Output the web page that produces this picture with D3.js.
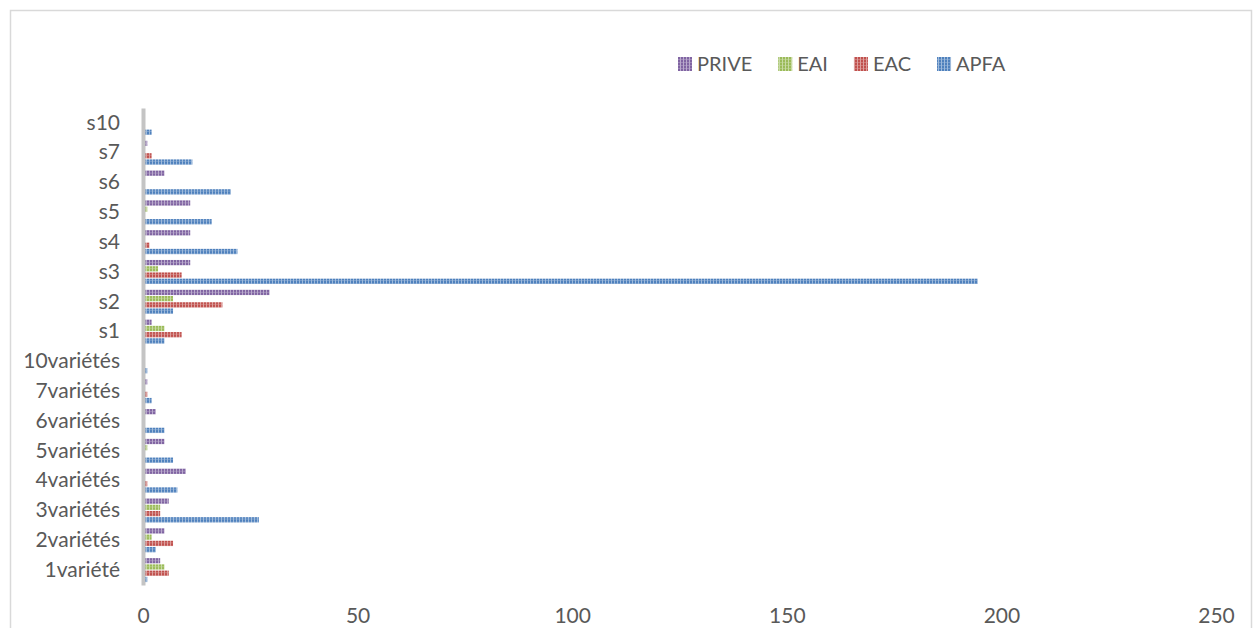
<!DOCTYPE html>
<html>
<head>
<meta charset="utf-8">
<script src="https://cdn.jsdelivr.net/npm/d3@7"></script>
<style>
  html, body { margin: 0; padding: 0; background: #fff; }
  svg { display: block; }
  text { font-family: Lato, "Open Sans", sans-serif; fill: #595959; }
</style>
</head>
<body>
<svg id="chart" width="1260" height="628"></svg>
<script>
// Categories listed bottom to top
const categories = ["1variété", "2variétés", "3variétés", "4variétés", "5variétés", "6variétés",
  "7variétés", "10variétés", "s1", "s2", "s3", "s4", "s5", "s6", "s7", "s10"];

const APFA  = [1, 3, 27, 8, 7, 5, 2, 1, 5, 7, 194.5, 22, 16, 20.5, 11.5, 2];
const EAC   = [6, 7, 4, 1, 0, 0, 1, 0, 9, 18.5, 9, 1.5, 0, 0, 2, 0];
const EAI   = [5, 2, 4, 0, 1, 0, 0, 0, 5, 7, 3.5, 0, 1, 0, 0, 0];
const PRIVE = [4, 5, 6, 10, 5, 3, 1, 0, 2, 29.5, 11, 11, 11, 5, 1, 0];

const xTicks = [0, 50, 100, 150, 200, 250];

// Series listed in legend order (top bar of each group first)
const seriesNames = ["PRIVE", "EAI", "EAC", "APFA"];
const seriesValues = { PRIVE, EAI, EAC, APFA };
const seriesColors = { PRIVE: "#8064A2", EAI: "#9BBB59", EAC: "#C0504D", APFA: "#4F81BD" };

const svg = d3.select("#chart");

// Outer chart frame
svg.append("rect")
  .attr("x", 10.5).attr("y", 10.5)
  .attr("width", 1241).attr("height", 640)
  .attr("fill", "#fff").attr("stroke", "#d9d9d9").attr("stroke-width", 1.5);

// Striped fill patterns for the bars
const defs = svg.append("defs");
seriesNames.forEach(name => {
  const base = d3.color(seriesColors[name]);
  const light = d3.interpolateRgb(base, "#ffffff")(0.45);
  const p = defs.append("pattern")
    .attr("id", "pat-" + name)
    .attr("patternUnits", "userSpaceOnUse")
    .attr("width", 3).attr("height", 3);
  p.append("rect").attr("width", 3).attr("height", 3).attr("fill", base.formatHex());
  p.append("rect").attr("x", 2).attr("width", 1).attr("height", 3).attr("fill", light);
  p.append("rect").attr("y", 2).attr("width", 3).attr("height", 1).attr("fill", light).attr("opacity", 0.5);
});

const x = d3.scaleLinear().domain([0, 250]).range([143, 143 + 250 * 4.292]);

const y = d3.scaleBand()
  .domain(categories.slice().reverse())
  .range([108, 585])
  .padding(0);

const inner = d3.scaleBand()
  .domain(seriesNames)
  .range([2.9, y.bandwidth() - 2.9])
  .paddingInner(0.15);

// Bars
const groups = svg.append("g").selectAll("g")
  .data(categories)
  .join("g")
  .attr("transform", d => `translate(0,${y(d)})`);

groups.selectAll("rect")
  .data((d, i) => seriesNames.map(s => ({ series: s, value: seriesValues[s][i] })))
  .join("rect")
  .filter(d => d.value > 0)
  .attr("x", x(0))
  .attr("y", d => inner(d.series))
  .attr("width", d => x(d.value) - x(0))
  .attr("height", inner.bandwidth())
  .attr("fill", d => `url(#pat-${d.series})`);

// Vertical category axis
const yAxis = d3.axisLeft(y).tickSize(0).tickPadding(23);
const yg = svg.append("g").attr("transform", `translate(${x(0)},0)`).call(yAxis);
yg.select(".domain").attr("stroke", "#c4c4c4").attr("stroke-width", 4);
yg.selectAll("text").attr("font-size", 21).attr("fill", "#595959")
  .attr("font-family", "Lato, 'Open Sans', sans-serif");

// Horizontal value axis (labels only)
const xAxis = d3.axisBottom(x).tickValues(xTicks).tickSize(0).tickPadding(0);
const xg = svg.append("g").attr("transform", "translate(0,608)").call(xAxis);
xg.select(".domain").remove();
xg.selectAll("text").attr("font-size", 21).attr("fill", "#595959")
  .attr("font-family", "Lato, 'Open Sans', sans-serif");

// Legend
const legend = svg.append("g");
let lx = 678;
seriesNames.forEach(name => {
  legend.append("rect")
    .attr("x", lx).attr("y", 57)
    .attr("width", 14).attr("height", 14)
    .attr("fill", `url(#pat-${name})`);
  const t = legend.append("text")
    .attr("x", lx + 19).attr("y", 63)
    .attr("dominant-baseline", "central")
    .attr("font-size", 20)
    .text(name);
  lx += 19 + t.node().getComputedTextLength() + 26;
});
</script>
</body>
</html>
